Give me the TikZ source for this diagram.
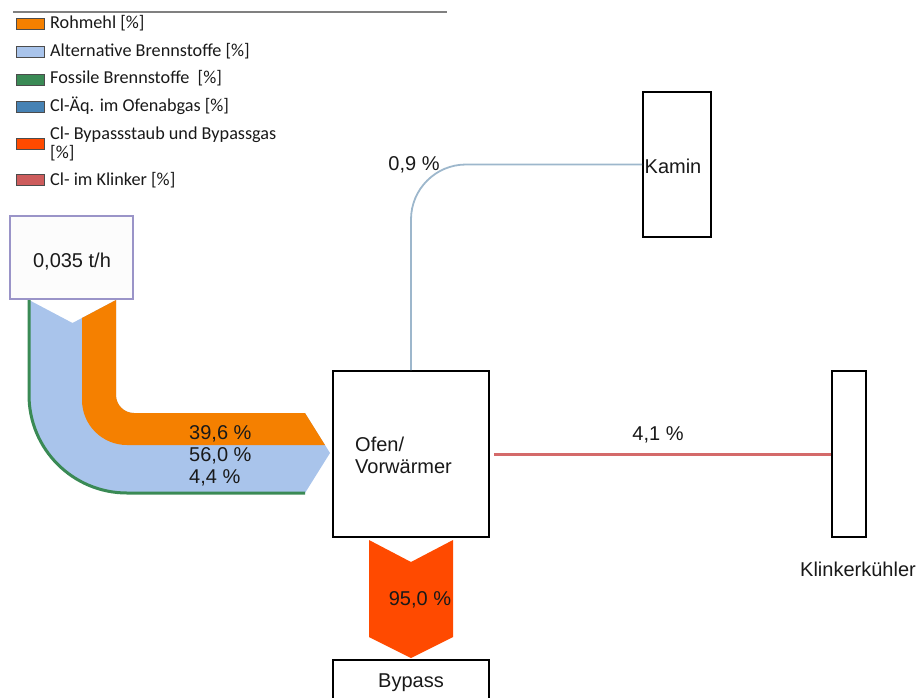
\documentclass[tikz,border=0pt]{standalone}
\usepackage{fontspec}
\setmainfont{Liberation Sans}
\newfontfamily\legfont{Carlito}
\definecolor{cOrange}{HTML}{F58000}
\definecolor{cAlt}{HTML}{A9C4EB}
\definecolor{cFoss}{HTML}{3A8A55}
\definecolor{cAbg}{HTML}{4682B4}
\definecolor{cByp}{HTML}{FF4A00}
\definecolor{cKl}{HTML}{CD5C5C}
\definecolor{cAbgLine}{HTML}{9DB7CC}
\definecolor{cKlLine}{HTML}{D46A6A}
\definecolor{cSrc}{HTML}{9A94C8}
\tikzset{
  swatch/.style={draw=black!70, line width=0.9pt, minimum width=28pt, minimum height=11pt, inner sep=0pt},
  legtext/.style={anchor=west, inner sep=0pt, font=\legfont\fontsize{18.2}{19}\selectfont, text=black!90, align=left},
  lab/.style={inner sep=0pt, font=\fontsize{20}{22}\selectfont, text=black!90},
  box/.style={draw=black, line width=2pt, fill=white, inner sep=0pt},
}
\begin{document}
\begin{tikzpicture}[x=1pt,y=-1pt]
\useasboundingbox (0,0) rectangle (919,697);
\clip (0,0) rectangle (919,697);
% legend
\draw[gray, line width=1.6pt] (13,12) -- (447,12);
\node[swatch, fill=cOrange] (s1) at (30,24) {};
\node[legtext] (l1) at (50,23) {Rohmehl [\%]};
\node[swatch, fill=cAlt] (s2) at (30,52) {};
\node[legtext] (l2) at (50,51) {Alternative Brennstoffe [\%]};
\node[swatch, fill=cFoss] (s3) at (30,80) {};
\node[legtext] (l3) at (50,78) {Fossile Brennstoffe \ [\%]};
\node[swatch, fill=cAbg] (s4) at (30,107) {};
\node[legtext] (l4) at (50,106) {Cl-Äq. im Ofenabgas [\%]};
\node[swatch, fill=cByp] (s5) at (30,144) {};
\node[legtext] (l5) at (50,144) {Cl- Bypassstaub und Bypassgas\\{}[\%]};
\node[swatch, fill=cKl] (s6) at (30,180) {};
\node[legtext] (l6) at (50,180) {Cl- im Klinker [\%]};
% source box
\node[draw=cSrc, line width=1.2pt, fill=black!1, minimum width=123pt, minimum height=83pt, inner sep=0pt] (src) at (71.5,257.5) {};
\node[lab] (srct) at (72,262) {0,035 t/h};
% input ribbon
\fill[cAlt] (29,300) -- (72.5,323) -- (116,300) -- (116,395) arc[start angle=180, end angle=90, radius=18] -- (305,413) -- (330,453) -- (305,493) -- (127,493) arc[start angle=90, end angle=180, radius=98] -- cycle;
\fill[cOrange] (82,318) -- (116,300) -- (116,395) arc[start angle=180, end angle=90, radius=18] -- (305,413) -- (325,445) -- (127,445) arc[start angle=90, end angle=180, radius=45] -- cycle;
\draw[cFoss, line width=3pt] (29,300) -- (29,395) arc[start angle=180, end angle=90, radius=98] -- (305,493);
\node[lab, anchor=west] (f1) at (189,434) {39,6 \%};
\node[lab, anchor=west] (f2) at (189,456) {56,0 \%};
\node[lab, anchor=west] (f3) at (189,478) {4,4 \%};
% boxes
\node[box, minimum width=156pt, minimum height=166pt] (ofen) at (411,454) {};
\node[lab, anchor=west, align=left] (ofent) at (355,455) {Ofen/\\Vorwärmer};
\node[box, minimum width=68pt, minimum height=145pt] (kamin) at (677,164.5) {};
\node[lab] (kamint) at (673,166) {Kamin};
\node[box, minimum width=34pt, minimum height=166pt] (kk) at (849,454) {};
\node[lab] (kkt) at (858,569) {Klinkerkühler};
\node[box, minimum width=156pt, minimum height=60pt] (bypass) at (411,690) {};
\node[lab] (bypt) at (411,683) {Bypass};
% connectors
\draw[cAbgLine, line width=1.8pt, rounded corners=55pt] (ofen.north) |- (kamin.west);
\node[lab] (abgt) at (414,165) {0,9 \%};
\draw[cKlLine, line width=3pt, shorten <=4pt] (ofen.east) -- (kk.west);
\node[lab] (klt) at (658,435) {4,1 \%};
\fill[cByp] (369,540) -- (411,562) -- (453,540) -- (453,637) -- (411,658) -- (369,637) -- cycle;
\node[lab] (bypl) at (420,600) {95,0 \%};
\end{tikzpicture}
\end{document}
